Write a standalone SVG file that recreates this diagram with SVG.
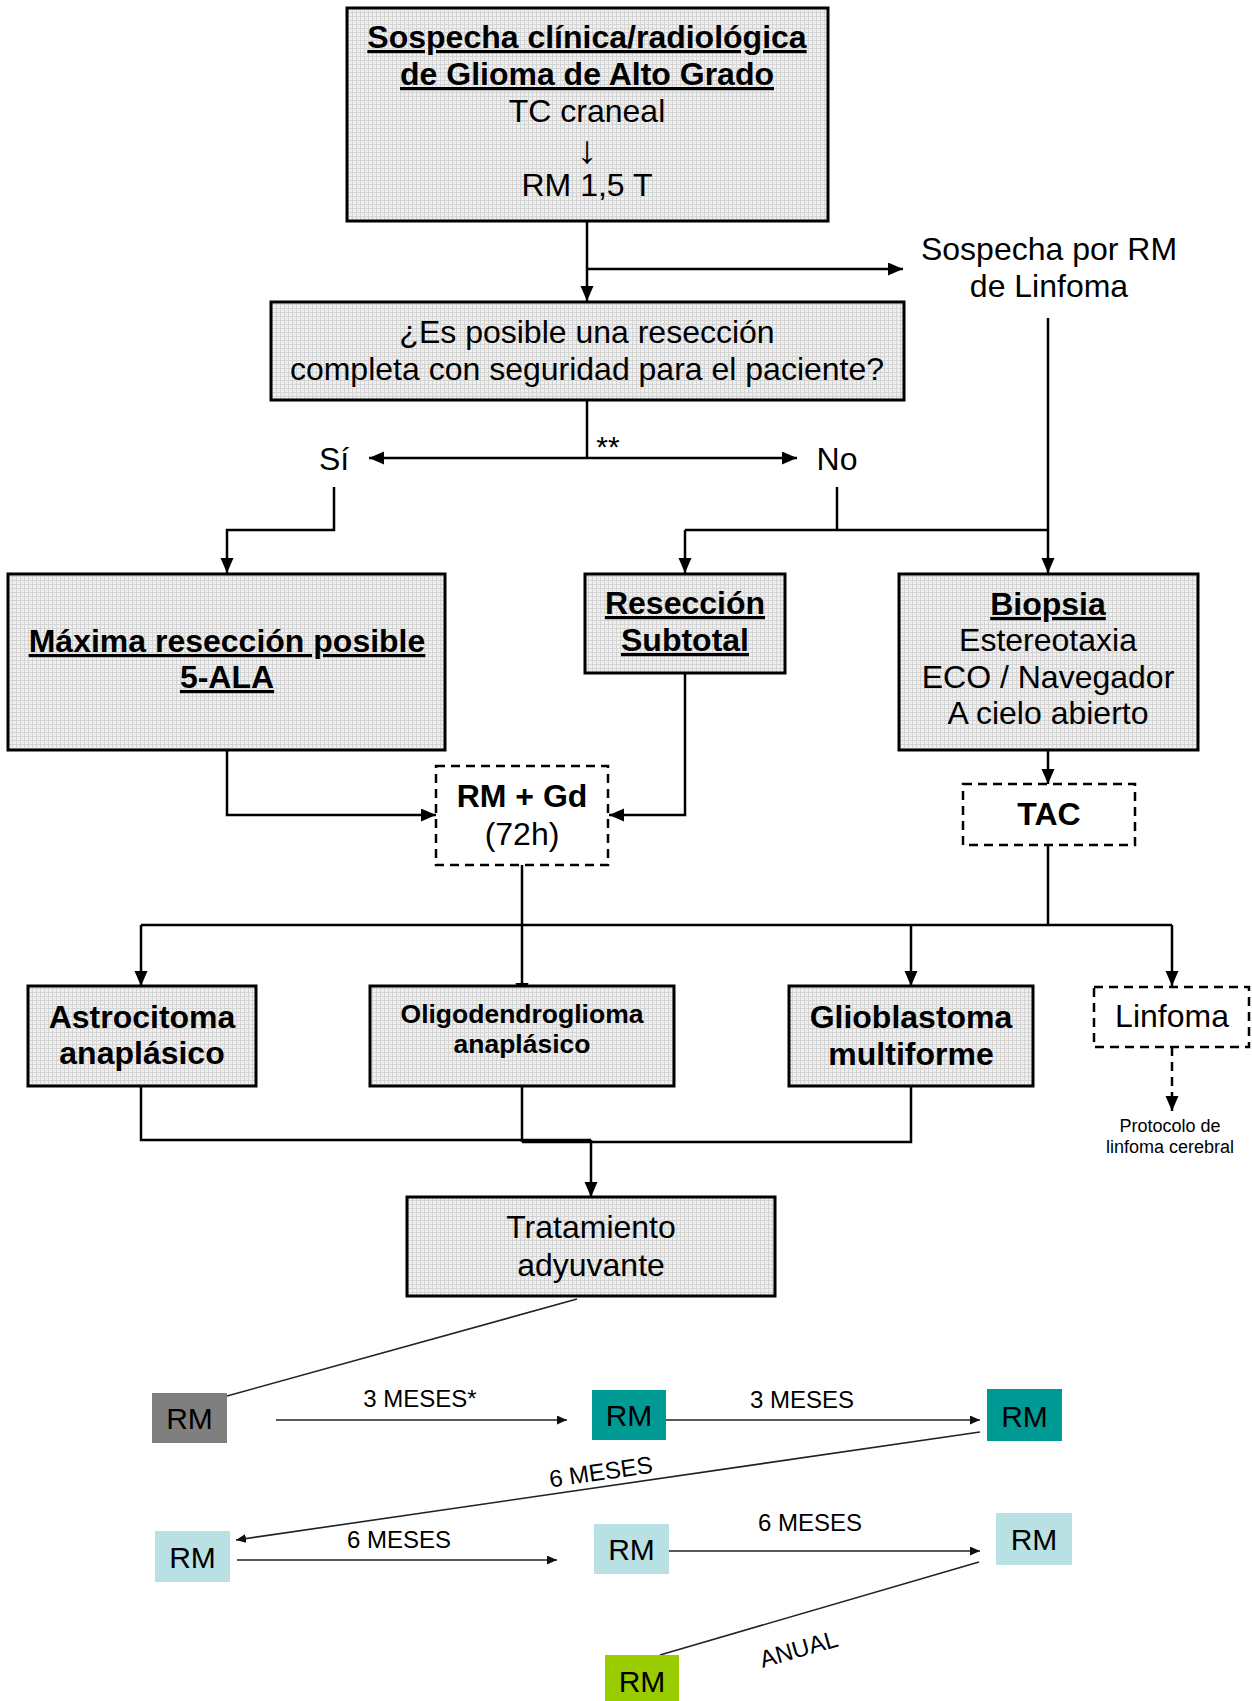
<svg xmlns="http://www.w3.org/2000/svg" width="1252" height="1701" viewBox="0 0 1252 1701">
<style>
.box{fill:url(#grid);stroke:#000;stroke-width:3}
.dbox{fill:#fff;stroke:#000;stroke-width:2.5;stroke-dasharray:9 6}
.c{fill:none;stroke:#000;stroke-width:2.5}
.tc{fill:none;stroke:#222;stroke-width:1.6}
.t{font-family:"Liberation Sans",Arial,sans-serif;font-size:32px;text-anchor:middle;fill:#000}
.b{font-weight:bold}
.u{text-decoration:underline}
.s{font-size:24px}
.rm{font-family:"Liberation Sans",Arial,sans-serif;font-size:30px;text-anchor:middle;fill:#000}
</style>
<defs>
<pattern id="grid" width="4" height="4" patternUnits="userSpaceOnUse"><rect width="4" height="4" fill="#efefef"/><path d="M0 0.5H4M0.5 0V4" stroke="#d4d4d4" stroke-width="1"/></pattern>
<marker id="ah" markerUnits="userSpaceOnUse" markerWidth="16" markerHeight="14" refX="15" refY="6.5" orient="auto"><path d="M0,0 L15,6.5 L0,13 z" fill="#000"/></marker>
<marker id="ahs" markerUnits="userSpaceOnUse" markerWidth="11" markerHeight="10" refX="10" refY="4.5" orient="auto"><path d="M0,0 L10,4.5 L0,9 z" fill="#111"/></marker>
</defs>
<rect width="1252" height="1701" fill="#fff"/>

<g id="connectors">
<path class="c" d="M587,221V301" marker-end="url(#ah)"/>
<path class="c" d="M587,269H903" marker-end="url(#ah)"/>
<path class="c" d="M1048,318V573" marker-end="url(#ah)"/>
<path class="c" d="M587,400V458"/>
<path class="c" d="M587,458H369" marker-end="url(#ah)"/>
<path class="c" d="M587,458H797" marker-end="url(#ah)"/>
<path class="c" d="M334,487V530H227V573" marker-end="url(#ah)"/>
<path class="c" d="M837,487V530"/>
<path class="c" d="M685,530H1048"/>
<path class="c" d="M685,530V573" marker-end="url(#ah)"/>
<path class="c" d="M227,750V815H436" marker-end="url(#ah)"/>
<path class="c" d="M685,673V815H609" marker-end="url(#ah)"/>
<path class="c" d="M1048,750V784" marker-end="url(#ah)"/>
<path class="c" d="M1048,845V925"/>
<path class="c" d="M141,925H1172"/>
<path class="c" d="M141,925V986" marker-end="url(#ah)"/>
<path class="c" d="M911,925V986" marker-end="url(#ah)"/>
<path class="c" d="M1172,925V986" marker-end="url(#ah)"/>
<path class="c" d="M522,865V998" marker-end="url(#ah)"/>
<path class="c" d="M1172,1047V1111" stroke-dasharray="9 6" marker-end="url(#ah)"/>
<path class="c" d="M141,1086V1140H591"/>
<path class="c" d="M522,1086V1142"/>
<path class="c" d="M911,1086V1142H522"/>
<path class="c" d="M591,1140V1197" marker-end="url(#ah)"/>
<path class="tc" stroke="#444" d="M577,1299L227,1396"/>
<path class="tc" d="M276,1420H567" marker-end="url(#ahs)"/>
<path class="tc" d="M666,1420H980" marker-end="url(#ahs)"/>
<path class="tc" d="M980,1432L236,1540" marker-end="url(#ahs)"/>
<path class="tc" d="M237,1560H557" marker-end="url(#ahs)"/>
<path class="tc" d="M669,1551H980" marker-end="url(#ahs)"/>
<path class="tc" d="M979,1562L660,1655"/>
</g>

<g id="n-sospecha">
<rect class="box" x="347" y="8" width="481" height="213"/>
<text class="t b u" x="587" y="48">Sospecha clínica/radiológica</text>
<text class="t b u" x="587" y="85">de Glioma de Alto Grado</text>
<text class="t" x="587" y="122">TC craneal</text>
<text class="t" x="0" y="0" transform="translate(587,163) scale(1.3,1.2)">↓</text>
<text class="t" x="587" y="196">RM 1,5 T</text>
</g>

<g id="n-linfoma-sosp">
<text class="t" x="1049" y="260">Sospecha por RM</text>
<text class="t" x="1049" y="297">de Linfoma</text>
</g>

<g id="n-pregunta">
<rect class="box" x="271" y="302" width="633" height="98"/>
<text class="t" x="587" y="343">¿Es posible una resección</text>
<text class="t" x="587" y="380">completa con seguridad para el paciente?</text>
</g>

<g id="n-si"><text class="t" x="334" y="470">Sí</text></g>
<g id="n-no"><text class="t" x="837" y="470">No</text></g>
<g id="n-ast"><text class="t" x="608" y="457" style="font-size:30px">**</text></g>

<g id="n-maxima">
<rect class="box" x="8" y="574" width="437" height="176"/>
<text class="t b u" x="227" y="652">Máxima resección posible</text>
<text class="t b u" x="227" y="688">5-ALA</text>
</g>

<g id="n-subtotal">
<rect class="box" x="585" y="574" width="200" height="99"/>
<text class="t b u" x="685" y="614">Resección</text>
<text class="t b u" x="685" y="651">Subtotal</text>
</g>

<g id="n-biopsia">
<rect class="box" x="899" y="574" width="299" height="176"/>
<text class="t b u" x="1048" y="615">Biopsia</text>
<text class="t" x="1048" y="651">Estereotaxia</text>
<text class="t" x="1048" y="688">ECO / Navegador</text>
<text class="t" x="1048" y="724">A cielo abierto</text>
</g>

<g id="n-rmgd">
<rect class="dbox" x="436" y="766" width="172" height="99"/>
<text class="t b" x="522" y="807">RM + Gd</text>
<text class="t" x="522" y="845">(72h)</text>
</g>

<g id="n-tac">
<rect class="dbox" x="963" y="784" width="172" height="61"/>
<text class="t b" x="1049" y="825">TAC</text>
</g>

<g id="n-astro">
<rect class="box" x="28" y="986" width="228" height="100"/>
<text class="t b" x="142" y="1028">Astrocitoma</text>
<text class="t b" x="142" y="1064">anaplásico</text>
</g>

<g id="n-oligo">
<rect class="box" x="370" y="986" width="304" height="100"/>
<text class="t b" x="522" y="1023" style="font-size:26.5px">Oligodendroglioma</text>
<text class="t b" x="522" y="1053" style="font-size:26.5px">anaplásico</text>
</g>

<g id="n-glio">
<rect class="box" x="789" y="986" width="244" height="100"/>
<text class="t b" x="911" y="1028">Glioblastoma</text>
<text class="t b" x="911" y="1065">multiforme</text>
</g>

<g id="n-linfoma">
<rect class="dbox" x="1094" y="987" width="155" height="60"/>
<text class="t" x="1172" y="1027">Linfoma</text>
</g>

<g id="n-protocolo">
<text class="t" x="1170" y="1132" style="font-size:18px">Protocolo de</text>
<text class="t" x="1170" y="1153" style="font-size:18px">linfoma cerebral</text>
</g>

<g id="n-tratamiento">
<rect class="box" x="407" y="1197" width="368" height="99"/>
<text class="t" x="591" y="1238">Tratamiento</text>
<text class="t" x="591" y="1276">adyuvante</text>
</g>

<g id="labels">
<text class="t s" x="420" y="1407">3 MESES*</text>
<text class="t s" x="802" y="1408">3 MESES</text>
<text class="t s" x="0" y="0" transform="translate(602,1480) rotate(-8.2)">6 MESES</text>
<text class="t s" x="399" y="1548">6 MESES</text>
<text class="t s" x="810" y="1531">6 MESES</text>
<text class="t s" x="0" y="0" transform="translate(801,1657) rotate(-16)">ANUAL</text>
</g>

<g id="rm1"><rect x="152" y="1393" width="75" height="50" fill="#7f7f7f"/><text class="rm" x="189.5" y="1429">RM</text></g>
<g id="rm2"><rect x="592" y="1390" width="74" height="50" fill="#009a95"/><text class="rm" x="629" y="1426">RM</text></g>
<g id="rm3"><rect x="987" y="1389" width="75" height="52" fill="#009a95"/><text class="rm" x="1024.5" y="1427">RM</text></g>
<g id="rm4"><rect x="155" y="1531" width="75" height="51" fill="#b9e0e3"/><text class="rm" x="192.5" y="1568">RM</text></g>
<g id="rm5"><rect x="594" y="1524" width="75" height="50" fill="#b9e0e3"/><text class="rm" x="631.5" y="1560">RM</text></g>
<g id="rm6"><rect x="996" y="1513" width="76" height="52" fill="#b9e0e3"/><text class="rm" x="1034" y="1550">RM</text></g>
<g id="rm7"><rect x="605" y="1655" width="74" height="46" fill="#99cc00"/><text class="rm" x="642" y="1692">RM</text></g>
</svg>
